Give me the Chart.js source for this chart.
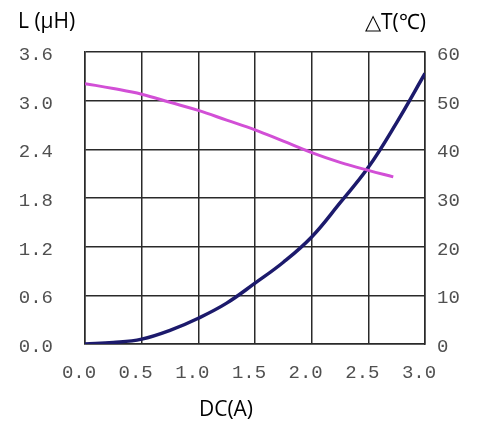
<!DOCTYPE html>
<html lang="en">
  <head>
    <meta charset="UTF-8" />
    <title>L and dT vs DC</title>
    <script src="https://cdn.jsdelivr.net/npm/chart.js@4.4.0/dist/chart.umd.min.js"></script>
    <style>
      body { margin: 0; background: #fff; }
    </style>
  </head>
  <body>
    <canvas id="myChart" width="479" height="423"></canvas>

    <script>
    // values
    const currentL = [0, 0.25, 0.5, 0.75, 1.0, 1.25, 1.5, 1.75, 2.0, 2.25, 2.5, 2.72];
    const inductance = [3.21, 3.15, 3.08, 2.98, 2.88, 2.76, 2.64, 2.50, 2.36, 2.24, 2.14, 2.06];

    const currentT = [0, 0.25, 0.5, 0.75, 1.0, 1.25, 1.5, 1.75, 2.0, 2.25, 2.5, 2.75, 3.0];
    const tempRise = [0, 0.3, 1.0, 2.8, 5.3, 8.4, 12.5, 16.8, 22, 29, 36.3, 45.5, 55.6];

    const xTicks = [0, 0.5, 1.0, 1.5, 2.0, 2.5, 3.0];

    const tickFont = { family: 'Liberation Mono', size: 19 };
    const tickColor = '#505050';
    const gridColor = '#2a2a2a';

    // axis titles drawn as plain text on the canvas
    const titles = {
      id: 'titles',
      afterDraw(chart) {
        const ctx = chart.ctx;
        ctx.save();
        ctx.fillStyle = '#000';
        ctx.font = '21px "Open Sans"';
        ctx.textBaseline = 'alphabetic';
        ctx.textAlign = 'left';
        ctx.fillText('L (μH)', 18, 28);
        ctx.fillText('△T(℃)', 365, 29);
        ctx.textAlign = 'center';
        ctx.fillText('DC(A)', 226, 416);
        ctx.restore();
      }
    };

    const ctx = document.getElementById('myChart').getContext('2d');
    const myChart = new Chart(ctx, {
      type: 'line',
      data: {
        datasets: [{
          label: 'L',
          data: currentL.map((x, i) => ({ x: x, y: inductance[i] })),
          yAxisID: 'y',
          borderColor: '#d24fd6',
          borderWidth: 3,
          pointRadius: 0,
          fill: false,
          tension: 0.4
        }, {
          label: 'dT',
          data: currentT.map((x, i) => ({ x: x, y: tempRise[i] })),
          yAxisID: 'y1',
          borderColor: '#1c1a6c',
          borderWidth: 3.5,
          pointRadius: 0,
          fill: false,
          tension: 0.4
        }]
      },
      options: {
        responsive: false,
        animation: false,
        layout: { padding: { top: 52, left: 0, right: 0, bottom: 0 } },
        plugins: {
          legend: { display: false },
          tooltip: { enabled: false }
        },
        scales: {
          x: {
            type: 'linear',
            min: 0,
            max: 3,
            afterBuildTicks: s => { s.ticks = xTicks.map(v => ({ value: v })); },
            afterFit: s => { s.height = 79; },
            ticks: {
              callback: v => v.toFixed(1),
              font: tickFont,
              color: tickColor,
              padding: 18,
              labelOffset: -6,
              maxRotation: 0
            },
            grid: { color: gridColor, lineWidth: 1.5, drawTicks: false },
            border: { color: gridColor, width: 1.5 }
          },
          y: {
            position: 'left',
            min: 0,
            max: 3.6,
            afterFit: s => { s.width = 85; },
            ticks: {
              stepSize: 0.6,
              callback: v => v.toFixed(1),
              font: tickFont,
              color: tickColor,
              padding: 32,
              labelOffset: 3
            },
            grid: { color: gridColor, lineWidth: 1.5, drawTicks: false },
            border: { color: gridColor, width: 1.5 }
          },
          y1: {
            position: 'right',
            min: 0,
            max: 60,
            afterFit: s => { s.width = 54; },
            ticks: {
              stepSize: 10,
              font: tickFont,
              color: tickColor,
              padding: 12,
              labelOffset: 3
            },
            grid: { drawOnChartArea: false, drawTicks: false },
            border: { color: gridColor, width: 1.5 }
          }
        }
      },
      plugins: [titles]
    });
    </script>
  </body>
</html>
